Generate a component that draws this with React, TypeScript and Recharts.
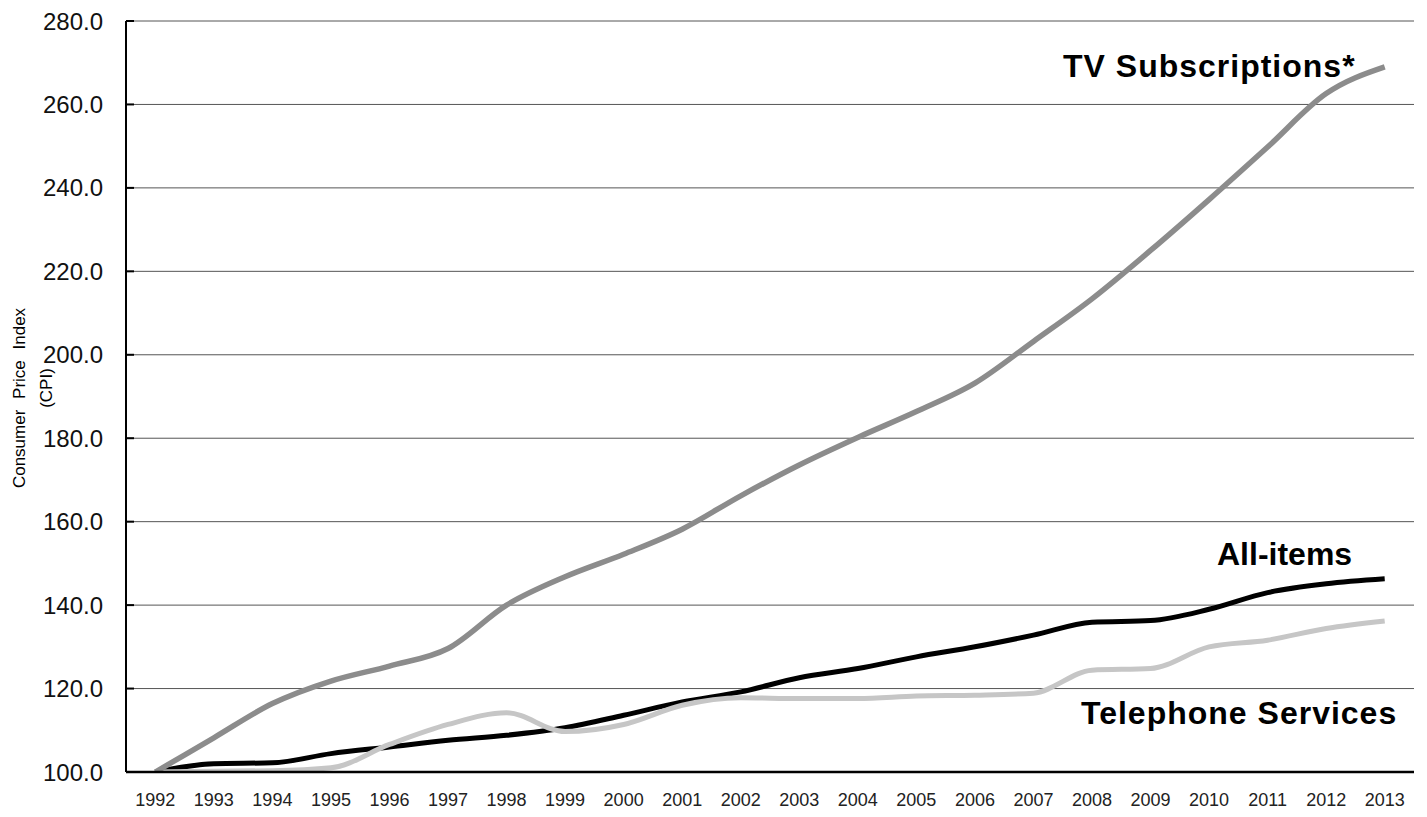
import React from 'react';
import { LineChart, Line, XAxis, YAxis, CartesianGrid, Customized } from 'recharts';

const years = ['1992','1993','1994','1995','1996','1997','1998','1999','2000','2001','2002','2003','2004','2005','2006','2007','2008','2009','2010','2011','2012','2013'];
const tvSubscriptions = [100, 108.2, 116.4, 121.8, 125.4, 129.6, 140.0, 146.8, 152.2, 158.2, 166.2, 173.6, 180.2, 186.4, 193.2, 203.2, 213.4, 225.0, 237.2, 249.8, 262.6, 269.0];
const allItems = [100, 102.0, 102.2, 104.4, 106.0, 107.6, 108.8, 110.6, 113.6, 116.8, 119.2, 122.6, 124.8, 127.6, 130.0, 132.8, 135.9, 136.3, 139.0, 143.0, 145.1, 146.3];
const telephone = [100, 100.2, 100.3, 101.0, 106.6, 111.4, 114.2, 109.7, 111.4, 116.0, 117.8, 117.6, 117.6, 118.2, 118.4, 118.9, 124.4, 124.8, 130.0, 131.6, 134.4, 136.2];
const yTicks = [100, 120, 140, 160, 180, 200, 220, 240, 260, 280];

const data = years.map((y, i) => ({ year: y, tv: tvSubscriptions[i], all: allItems[i], tel: telephone[i] }));

const FONT = '"Liberation Sans", Arial, sans-serif';

const Annotations = () => (
  <g fontFamily={FONT}>
    <text x={25} y={398} transform="rotate(-90 25 398)" textAnchor="middle" fontSize={17} fill="#000" wordSpacing={6}>Consumer Price Index</text>
    <text x={52} y={388} transform="rotate(-90 52 388)" textAnchor="middle" fontSize={17} fill="#000">(CPI)</text>
    <text x={1063} y={77} fontSize={32} fontWeight="bold" fill="#000" letterSpacing={1}>TV Subscriptions*</text>
    <text x={1217} y={565} fontSize={32} fontWeight="bold" fill="#000">All-items</text>
    <text x={1081} y={724} fontSize={32} fontWeight="bold" fill="#000" letterSpacing={1}>Telephone Services</text>
  </g>
);

export default function App() {
  return (
    <div style={{ position: 'absolute', left: 0, top: 0, width: 1427, height: 817, background: '#fff' }}>
      <LineChart width={1427} height={817} data={data} margin={{ top: 21, right: 13, left: 0, bottom: 0 }}>
        <CartesianGrid vertical={false} stroke="#555" strokeWidth={1} />
        <XAxis
          dataKey="year"
          padding={{ left: 29.3, right: 29.3 }}
          height={45}
          tickLine={false}
          tickSize={0}
          tickMargin={21}
          axisLine={{ stroke: '#000', strokeWidth: 2.5 }}
          tick={{ fontSize: 18, fill: '#222', fontFamily: FONT }}
          interval={0}
        />
        <YAxis
          width={126}
          domain={[100, 280]}
          ticks={yTicks}
          interval={0}
          allowDataOverflow
          tickFormatter={(v: number) => v.toFixed(1)}
          tickSize={-8}
          tickMargin={31}
          tickLine={{ stroke: '#000', strokeWidth: 2 }}
          axisLine={{ stroke: '#000', strokeWidth: 2 }}
          tick={{ fontSize: 24, fill: '#111', fontFamily: FONT }}
        />
        <Line type="monotone" dataKey="all" stroke="#000" strokeWidth={5} dot={false} isAnimationActive={false} />
        <Line type="monotone" dataKey="tel" stroke="#c6c6c6" strokeWidth={5} dot={false} isAnimationActive={false} />
        <Line type="monotone" dataKey="tv" stroke="#8c8c8c" strokeWidth={5.5} dot={false} isAnimationActive={false} />
        <Customized component={Annotations} />
      </LineChart>
    </div>
  );
}
